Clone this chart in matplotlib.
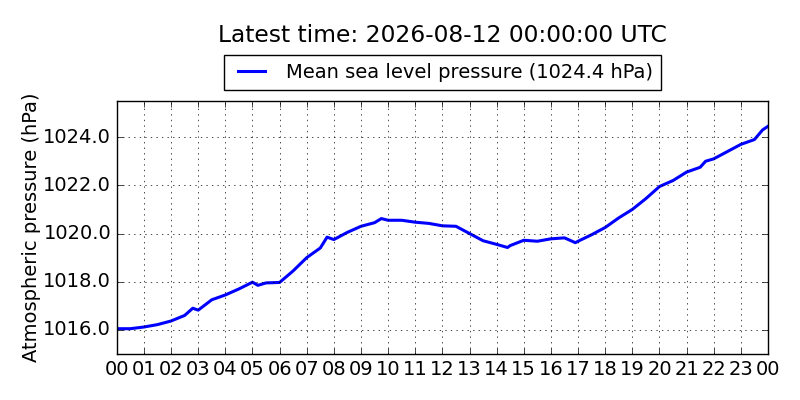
#!/usr/bin/env python3

import datetime as dt
import matplotlib
matplotlib.use('Agg')
import matplotlib.pyplot as plt
import matplotlib.dates as mdates

# Hours since 2026-08-11 00:00 UTC and pressure (hPa)
hours = [0, 0.5, 1.0, 1.5, 2.0, 2.5, 2.8, 3.0, 3.5, 4.0, 4.5, 5.0, 5.2, 5.5,
         6.0, 6.5, 7.0, 7.5, 7.75, 8.0, 8.5, 9.0, 9.5, 9.75, 10.0, 10.5,
         11.0, 11.5, 12.0, 12.5, 13.0, 13.5, 14.0, 14.4, 14.5, 15.0, 15.5,
         16.0, 16.5, 16.9, 17.0, 17.5, 18.0, 18.5, 19.0, 19.5, 20.0, 20.5,
         21.0, 21.5, 21.7, 22.0, 22.5, 23.0, 23.5, 23.8, 24.0]
pressure = [1016.05, 1016.05, 1016.12, 1016.22, 1016.37, 1016.6, 1016.9,
            1016.82, 1017.25, 1017.45, 1017.7, 1017.98, 1017.85, 1017.95,
            1017.97, 1018.45, 1019.0, 1019.4, 1019.85, 1019.75, 1020.05,
            1020.3, 1020.45, 1020.62, 1020.55, 1020.55, 1020.47, 1020.42,
            1020.32, 1020.3, 1020.0, 1019.7, 1019.55, 1019.42, 1019.5,
            1019.72, 1019.68, 1019.78, 1019.82, 1019.62, 1019.68, 1019.95,
            1020.25, 1020.65, 1021.0, 1021.45, 1021.95, 1022.2, 1022.55,
            1022.75, 1023.0, 1023.1, 1023.4, 1023.7, 1023.9, 1024.3, 1024.45]

start = dt.datetime(2026, 8, 11, 0, 0)
times = [start + dt.timedelta(hours=h) for h in hours]

plt.style.use('classic')
fig = plt.figure(figsize=(8, 4), dpi=100)
ax = fig.add_axes([0.146, 0.115, 0.814, 0.6325])

ax.plot(times, pressure, color='blue', linewidth=2.2,
        label='Mean sea level pressure (1024.4 hPa)')

ax.set_xlim(start, start + dt.timedelta(hours=24))
ax.set_ylim(1015, 1025.5)
ax.set_yticks([1016, 1018, 1020, 1022, 1024])
ax.yaxis.set_major_formatter(matplotlib.ticker.FormatStrFormatter('%.1f'))
ax.xaxis.set_major_locator(mdates.HourLocator())
ax.xaxis.set_major_formatter(mdates.DateFormatter('%H'))
ax.tick_params(labelsize=14)
ax.grid(True)
ax.set_ylabel('Atmospheric pressure (hPa)', fontsize=14, labelpad=2)

ax.legend(loc='lower center', bbox_to_anchor=(0.5, 1.045), fontsize=14,
          handlelength=2, borderaxespad=0)
fig.text(0.5525, 0.912, 'Latest time: 2026-08-12 00:00:00 UTC', ha='center',
         va='center', fontsize=16.8)

fig.savefig('out.png', dpi=100)
